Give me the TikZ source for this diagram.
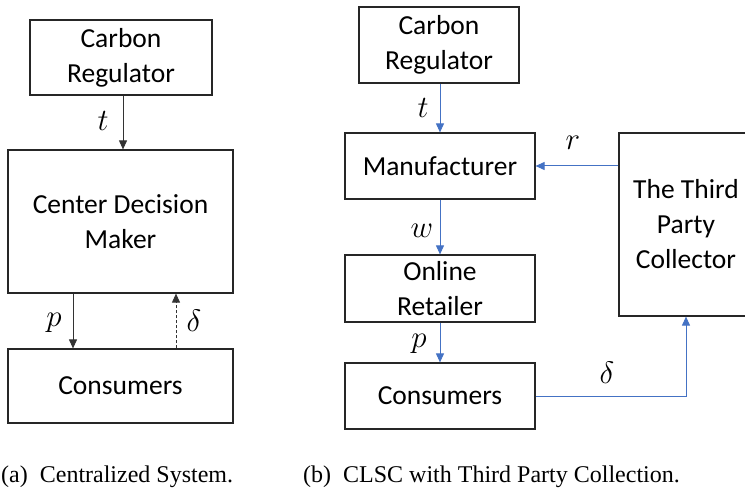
\RequirePackage{fix-cm}
\documentclass[tikz,border=0pt]{standalone}
\usepackage{fontspec}
\setmainfont{Liberation Serif}
\newfontfamily\boxfont{Carlito}
\usetikzlibrary{arrows.meta}
\definecolor{lnblue}{HTML}{4472C4}
\tikzset{
  blk/.style={draw=black!85, line width=1.2pt, inner sep=0pt, align=center,
    font=\boxfont\fontsize{27.5}{35}\selectfont},
  arrk/.style={draw=black!80, line width=0.9pt, -{Triangle[length=9pt,width=8pt]}},
  arrb/.style={draw=lnblue, line width=1pt, -{Triangle[length=9pt,width=8pt]}, color=lnblue},
  lbl/.style={inner sep=0pt, font=\fontsize{31}{36}\selectfont},
  captxt/.style={inner sep=0pt, anchor=base west, font=\fontsize{24}{28}\selectfont}
}
\begin{document}
\begin{tikzpicture}[x=1pt,y=-1pt]
\useasboundingbox (0,0) rectangle (745,489);
\clip (0,0) rectangle (745,489);
\fill[white] (0,0) rectangle (745,489);
% left diagram
\node[blk, minimum width=182pt, minimum height=75pt] (lcr) at (121,57.5) {Carbon\\Regulator};
\node[blk, minimum width=225pt, minimum height=143pt] (lcdm) at (120.5,221.5) {Center Decision\\Maker};
\node[blk, minimum width=225pt, minimum height=74pt] (lcons) at (120.5,386) {Consumers};
\draw[arrk] ([xshift=2pt]lcr.south) -- ([xshift=2.5pt]lcdm.north);
\draw[arrk] ([xshift=-47.5pt]lcdm.south) -- ([xshift=-47.5pt]lcons.north);
\draw[arrk, dash pattern=on 3pt off 2pt] ([xshift=55.5pt]lcons.north) -- ([xshift=55.5pt]lcdm.south);
\node[lbl] (lt) at (103,121) {$t$};
\node[lbl] (lp) at (54,323) {$p$};
\node[lbl] (ld) at (194,321) {$\delta$};
% right diagram
\node[blk, minimum width=160pt, minimum height=76pt] (rcr) at (439,45) {Carbon\\Regulator};
\node[blk, minimum width=190pt, minimum height=66pt] (rman) at (440,166) {Manufacturer};
\node[blk, minimum width=190pt, minimum height=67pt] (rret) at (440,288.5) {Online\\Retailer};
\node[blk, minimum width=190pt, minimum height=66pt] (rcons) at (440,396) {Consumers};
\node[blk, minimum width=134pt, minimum height=183pt] (rtpc) at (686,224.5) {The Third\\Party\\Collector};
\draw[arrb] ([xshift=1pt]rcr.south) -- (rman.north);
\draw[arrb] (rman.south) -- (rret.north);
\draw[arrb] (rret.south) -- (rcons.north);
\draw[arrb] (rtpc.west |- rman.east) -- (rman.east);
\draw[arrb] (rcons.east) -| (rtpc.south);
\node[lbl] (rt) at (423,108) {$t$};
\node[lbl] (rr) at (573,143) {$r$};
\node[lbl] (rw) at (422,231) {$w$};
\node[lbl] (rp) at (419,344) {$p$};
\node[lbl] (rd) at (607,373) {$\delta$};
% captions
\node[captxt] (capa) at (1,482) {(a)\hspace{12pt}Centralized System.};
\node[captxt] (capb) at (303,482) {(b)\hspace{12pt}CLSC with Third Party Collection.};
\end{tikzpicture}
\end{document}
